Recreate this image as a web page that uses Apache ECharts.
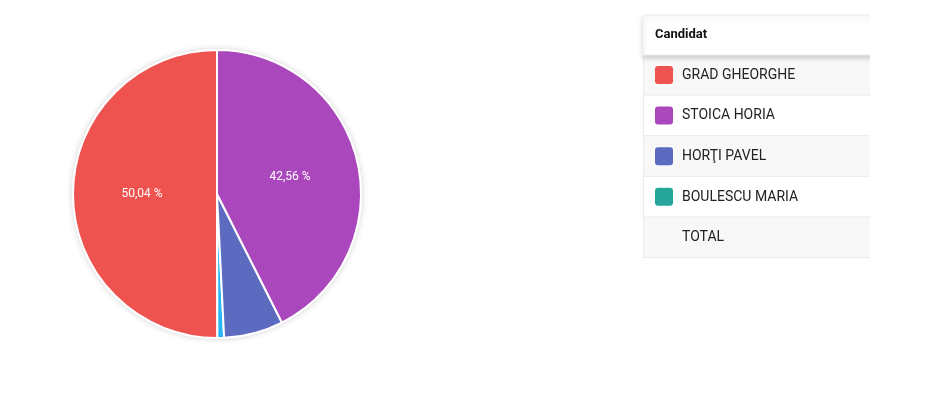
<!DOCTYPE html>
<html>
<head>
<meta charset="utf-8">
<script src="https://cdn.jsdelivr.net/npm/echarts@6/dist/echarts.min.js"></script>
<style>
  html, body { margin: 0; padding: 0; background: #fff; }
  #chart { width: 952px; height: 397px; }
</style>
</head>
<body>
<div id="chart"></div>
<script>
// candidates as listed in the table
const candidates = ['GRAD GHEORGHE', 'STOICA HORIA', 'HORŢI PAVEL', 'BOULESCU MARIA'];
const percents = [50.04, 42.56, 6.65, 0.75];
const sliceColors = ['#ef5350', '#ab47bc', '#5c6bc0', '#29b6f6'];
const tableColors = ['#ef5350', '#ab47bc', '#5c6bc0', '#26a69a'];
const headerText = 'Candidat';
const totalText = 'TOTAL';
// order of slices counter-clockwise from 12 o'clock
const pieOrder = [0, 3, 2, 1];

const chart = echarts.init(document.getElementById('chart'));

const fmt = (p) => p.toFixed(2).replace('.', ',') + ' %';

const pieData = pieOrder.map(i => ({
    name: candidates[i],
    value: percents[i],
    itemStyle: { color: sliceColors[i] },
    label: { show: percents[i] > 10 }
}));

// table on the right (cut off on its right side, like the page)
const tx = 643, tw = 240, headH = 40, rowH = 40.6, ty = 15;
const graphics = [];
const rows = candidates.concat([totalText]);
rows.forEach((name, i) => {
    const y = ty + headH + i * rowH;
    graphics.push({
        type: 'rect',
        shape: { x: tx, y: y, width: tw, height: rowH },
        style: { fill: i % 2 === 0 ? '#f8f8f8' : '#ffffff' },
        z: 1
    });
    graphics.push({
        type: 'line',
        shape: { x1: tx, y1: y + rowH - 0.5, x2: tx + tw, y2: y + rowH - 0.5 },
        style: { stroke: '#ebebeb', lineWidth: 1 },
        z: 2
    });
    if (i < candidates.length) {
        graphics.push({
            type: 'rect',
            shape: { x: tx + 12, y: y + 11, width: 18, height: 18, r: 3 },
            style: { fill: tableColors[i] },
            z: 3
        });
    }
    graphics.push({
        type: 'text',
        style: {
            x: tx + 39, y: y + rowH / 2, text: name,
            fill: '#222', font: '14px Roboto, sans-serif',
            verticalAlign: 'middle'
        },
        z: 3
    });
});
graphics.push({
    type: 'line',
    shape: { x1: tx + 0.5, y1: ty, x2: tx + 0.5, y2: ty + headH + rows.length * rowH },
    style: { stroke: '#ebebeb', lineWidth: 1 },
    z: 2
});
graphics.push({
    type: 'rect',
    shape: { x: tx, y: ty, width: tw, height: headH },
    style: {
        fill: '#fff', stroke: '#ececec', lineWidth: 1,
        shadowBlur: 5, shadowOffsetY: 3, shadowColor: 'rgba(0,0,0,0.16)'
    },
    z: 4
});
graphics.push({
    type: 'text',
    style: {
        x: tx + 12, y: ty + headH / 2, text: headerText,
        fill: '#111', font: 'bold 13px Roboto, sans-serif',
        verticalAlign: 'middle'
    },
    z: 5
});
// page edge hiding the rest of the table
graphics.push({
    type: 'rect',
    shape: { x: 870, y: 0, width: 82, height: 397 },
    style: { fill: '#fff' },
    z: 10
});

const option = {
    animation: false,
    graphic: graphics,
    series: [
        {
            // backdrop for the soft shadow around the pie
            type: 'pie',
            silent: true,
            center: [217, 194],
            radius: 145,
            z: 1,
            label: { show: false },
            itemStyle: { color: '#fff', shadowBlur: 6, shadowColor: 'rgba(0,0,0,0.18)' },
            data: [{ value: 1, name: '' }]
        },
        {
            type: 'pie',
            center: [217, 194],
            radius: 144,
            startAngle: 90,
            clockwise: false,
            z: 2,
            itemStyle: { borderColor: '#fff', borderWidth: 2 },
            label: {
                position: 'inside',
                color: '#fff',
                fontSize: 12,
                fontFamily: 'Roboto, sans-serif',
                formatter: (p) => fmt(p.value)
            },
            labelLine: { show: false },
            data: pieData
        }
    ]
};

chart.setOption(option);
</script>
</body>
</html>
